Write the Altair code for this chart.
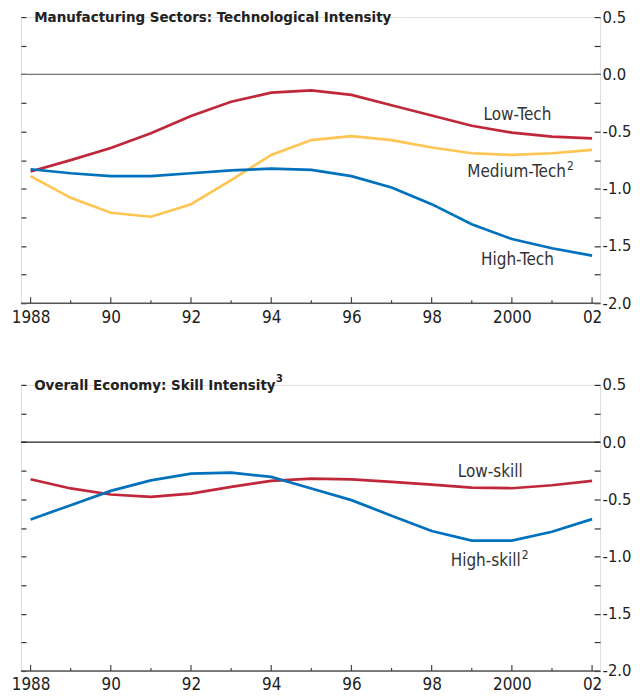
import altair as alt
import pandas as pd

years = list(range(1988, 2003))

# Top panel: manufacturing sectors by technological intensity
low_tech = [-0.85, -0.75, -0.645, -0.515, -0.365, -0.24, -0.16, -0.14, -0.18, -0.27, -0.36, -0.45, -0.51, -0.545, -0.56]
medium_tech = [-0.89, -1.08, -1.21, -1.245, -1.135, -0.925, -0.705, -0.575, -0.54, -0.575, -0.64, -0.69, -0.705, -0.69, -0.66]
high_tech = [-0.83, -0.865, -0.89, -0.89, -0.865, -0.84, -0.825, -0.835, -0.89, -0.99, -1.135, -1.31, -1.44, -1.52, -1.585]

# Bottom panel: overall economy by skill intensity
low_skill = [-0.325, -0.405, -0.458, -0.478, -0.45, -0.391, -0.339, -0.319, -0.325, -0.348, -0.371, -0.397, -0.403, -0.377, -0.339]
high_skill = [-0.676, -0.551, -0.426, -0.334, -0.276, -0.267, -0.304, -0.406, -0.507, -0.643, -0.777, -0.861, -0.861, -0.783, -0.673]

top_series = ["Low-Tech", "Medium-Tech", "High-Tech"]
top_colors = ["#C0283A", "#FFC552", "#0071BC"]
bottom_series = ["Low-skill", "High-skill"]
bottom_colors = ["#C0283A", "#0071BC"]

top_title = "Manufacturing Sectors: Technological Intensity"
top_title_sup = ""
bottom_title = "Overall Economy: Skill Intensity"
bottom_title_sup = "3"
bottom_title_sup_x = 1994.12

# series labels: text, anchor year, anchor value, alignment, superscript
top_label_text = ["Low-Tech", "Medium-Tech", "High-Tech"]
top_label_x = [2000.14, 2001.35, 2000.14]
top_label_y = [-0.353, -0.85, -1.627]
top_label_align = ["center", "right", "center"]
top_label_sup = ["", "2", ""]

bottom_label_text = ["Low-skill", "High-skill"]
bottom_label_x = [1999.46, 2000.22]
bottom_label_y = [-0.261, -1.035]
bottom_label_align = ["center", "right"]
bottom_label_sup = ["", "2"]

y_tick_values = [-2.0, -1.75, -1.5, -1.25, -1.0, -0.75, -0.5, -0.25, 0.0, 0.25, 0.5]
major_years = [y for y in years if y % 2 == 0]
minor_years = [y for y in years if y % 2 == 1]

W = 581
FONT = "DejaVu Sans Condensed, Roboto, sans-serif"
X_DOMAIN = [1987.76, 2002.2]
Y_DOMAIN = [-2.0, 0.5]

x_label_expr = ("datum.value % 2 == 1 ? '' : ((datum.value == 1988 || datum.value == 2000) ? "
                "toString(datum.value) : slice(toString(datum.value), 2))")
y_label_expr = ("abs(datum.value * 2 - round(datum.value * 2)) > 0.001 ? '' : "
                "((datum.value < 0 ? '-' : '') + format(abs(datum.value), '.1f'))")


def panel(series_names, series_values, colors, title, title_sup, title_sup_x,
          lab_text, lab_x, lab_y, lab_align, lab_sup, zero_color, H, x_pad, x_fs):
    rows = []
    for name, vals, col in zip(series_names, series_values, colors):
        for yr, v in zip(years, vals):
            rows.append({"year": yr, "value": v, "series": name, "color": col})
    df = pd.DataFrame(rows)

    xs = alt.Scale(domain=X_DOMAIN, nice=False, zero=False)
    ys = alt.Scale(domain=Y_DOMAIN, nice=False, zero=False)

    x_axis = alt.Axis(values=years, ticks=False, domain=False, grid=False, labelExpr=x_label_expr,
                      labelFont=FONT, labelFontSize=x_fs, labelColor="#222", labelPadding=x_pad,
                      labelFlush=False, labelOverlap=False, title=None)
    y_left = alt.Axis(orient="left", values=y_tick_values, labels=False, domain=False, grid=False,
                      tickSize=5, offset=-5, tickColor="#333", tickWidth=1.2, title=None)
    y_right = alt.Axis(orient="right", values=y_tick_values, domain=False, grid=False,
                       tickSize=6, offset=-6, tickColor="#333", tickWidth=1.2, labelExpr=y_label_expr,
                       labelFont=FONT, labelFontSize=16.5, labelColor="#222", labelPadding=2,
                       labelOverlap=False, labelFlush=False, title=None)

    lines = alt.Chart(df).mark_line(strokeWidth=2.7).encode(
        x=alt.X("year:Q", scale=xs, axis=x_axis),
        y=alt.Y("value:Q", scale=ys, axis=y_left),
        color=alt.Color("color:N", scale=None),
        detail="series:N",
    )

    zero = alt.Chart(pd.DataFrame({"v": [0.0]})).mark_rule(color=zero_color, strokeWidth=1.2).encode(
        y=alt.Y("v:Q", scale=ys, axis=y_right)
    )
    base_line = alt.Chart(pd.DataFrame({"v": [-2.0]})).mark_rule(color="#555", strokeWidth=1.5).encode(
        y=alt.Y("v:Q", scale=ys, axis=None)
    )
    major = alt.Chart(pd.DataFrame({"year": major_years})).mark_rule(color="#444", strokeWidth=1.2).encode(
        x=alt.X("year:Q", scale=xs), y=alt.value(H), y2=alt.value(H - 6)
    )
    minor = alt.Chart(pd.DataFrame({"year": minor_years})).mark_rule(color="#444", strokeWidth=1.2).encode(
        x=alt.X("year:Q", scale=xs), y=alt.value(H), y2=alt.value(H - 3)
    )

    lab_df = pd.DataFrame({"text": lab_text, "x": lab_x, "y": lab_y, "align": lab_align, "sup": lab_sup})
    labels = []
    for al in ["center", "right"]:
        sub = lab_df[lab_df["align"] == al]
        if len(sub):
            labels.append(alt.Chart(sub).mark_text(align=al, baseline="middle", font=FONT, fontSize=17,
                                                   color="#333").encode(
                x=alt.X("x:Q", scale=xs), y=alt.Y("y:Q", scale=ys, axis=None), text="text:N"))
    sup_df = lab_df[lab_df["sup"] != ""]
    if len(sup_df):
        labels.append(alt.Chart(sup_df).mark_text(align="left", baseline="middle", font=FONT, fontSize=12,
                                                  color="#333", dx=1, dy=-6).encode(
            x=alt.X("x:Q", scale=xs), y=alt.Y("y:Q", scale=ys, axis=None), text="sup:N"))

    title_mark = alt.Chart(pd.DataFrame({"t": [title], "x": [1988.09], "y": [0.5]})).mark_text(
        align="left", baseline="middle", font=FONT, fontSize=15, fontWeight="bold", color="#222"
    ).encode(x=alt.X("x:Q", scale=xs), y=alt.Y("y:Q", scale=ys, axis=None), text="t:N")
    extra = []
    if title_sup:
        extra.append(alt.Chart(pd.DataFrame({"t": [title_sup], "x": [title_sup_x], "y": [0.5]})).mark_text(
            align="left", baseline="middle", font=FONT, fontSize=11, fontWeight="bold", color="#222", dy=-6
        ).encode(x=alt.X("x:Q", scale=xs), y=alt.Y("y:Q", scale=ys, axis=None), text="t:N"))

    layer = alt.layer(zero, base_line, major, minor, lines, *labels, title_mark, *extra).resolve_axis(y="independent")
    return layer.properties(width=W, height=H)


top = panel(top_series, [low_tech, medium_tech, high_tech], top_colors, top_title, top_title_sup, 0,
            top_label_text, top_label_x, top_label_y, top_label_align, top_label_sup, "#777", 287, 6, 17)
bottom = panel(bottom_series, [low_skill, high_skill], bottom_colors, bottom_title, bottom_title_sup,
               bottom_title_sup_x, bottom_label_text, bottom_label_x, bottom_label_y, bottom_label_align,
               bottom_label_sup, "#222", 287, 6, 17)

chart = alt.vconcat(top, bottom, spacing=82, bounds="flush").properties(
    padding={"left": 2, "top": -1, "right": 0, "bottom": 0}
).configure_view(stroke=None).configure(background="white")

chart.save("out.html", embed_options={"renderer": "svg", "actions": False})
